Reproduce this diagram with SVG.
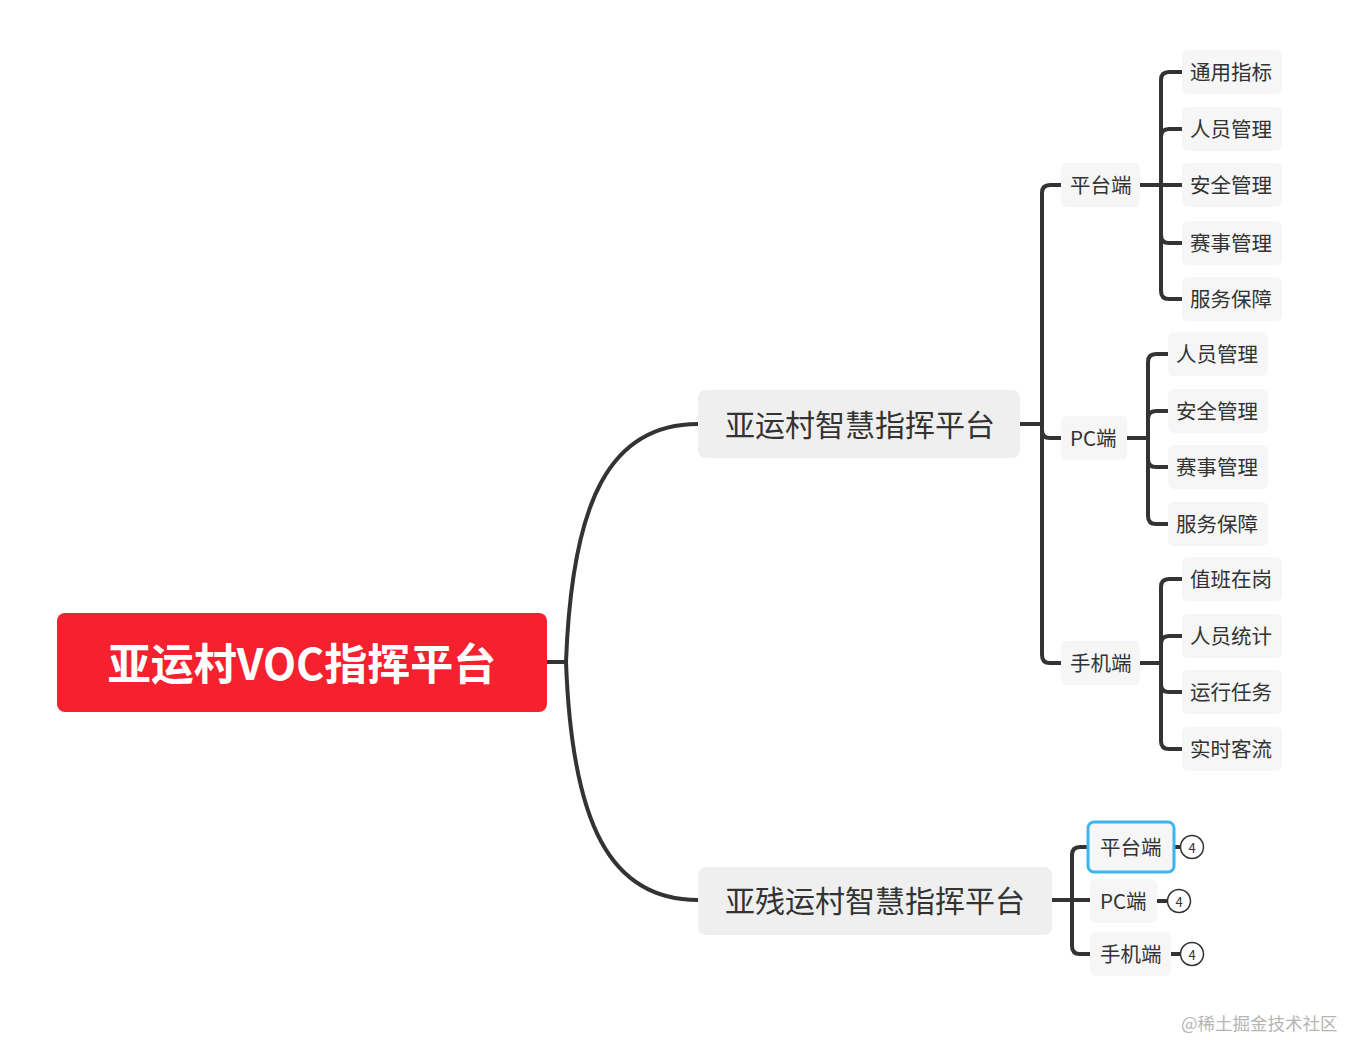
<svg xmlns="http://www.w3.org/2000/svg" width="1347" height="1040" viewBox="0 0 1347 1040">
<style>
text{font-family:"Noto Sans CJK SC","Noto Sans",sans-serif;dominant-baseline:central;fill:#333}
.ln{fill:none;stroke:#333;stroke-width:4;stroke-linecap:butt}
.l1{fill:#efefef}
.l2{fill:#f6f6f6}
.t1{font-size:30px}
.t2{font-size:20.5px}
.cnt{fill:#fff;stroke:#333;stroke-width:1.5}
.ct{font-size:13px;text-anchor:middle}
</style>
<rect width="1347" height="1040" fill="#fff"/>
<g id="connectors">
<path class="ln" d="M547,662 H566"/>
<path class="ln" d="M566,662 C572,500 610,424 698,424"/>
<path class="ln" d="M566,662 C572,824 610,900 698,900"/>
<path class="ln" d="M1020,424 H1042"/>
<path class="ln" d="M1042,424 V193 Q1042,185 1050,185 H1061"/>
<path class="ln" d="M1042,424 V430 Q1042,438 1050,438 H1061"/>
<path class="ln" d="M1042,424 V655 Q1042,663 1050,663 H1061"/>
<path class="ln" d="M1140,185 H1161"/>
<path class="ln" d="M1161,185 V80 Q1161,72 1169,72 H1182"/>
<path class="ln" d="M1161,185 V137 Q1161,129 1169,129 H1182"/>
<path class="ln" d="M1161,185 H1182"/>
<path class="ln" d="M1161,185 V235 Q1161,243 1169,243 H1182"/>
<path class="ln" d="M1161,185 V291 Q1161,299 1169,299 H1182"/>
<path class="ln" d="M1127,438 H1148"/>
<path class="ln" d="M1148,438 V362 Q1148,354 1156,354 H1168"/>
<path class="ln" d="M1148,438 V419 Q1148,411 1156,411 H1168"/>
<path class="ln" d="M1148,438 V459 Q1148,467 1156,467 H1168"/>
<path class="ln" d="M1148,438 V516 Q1148,524 1156,524 H1168"/>
<path class="ln" d="M1140,663 H1161"/>
<path class="ln" d="M1161,663 V587 Q1161,579 1169,579 H1182"/>
<path class="ln" d="M1161,663 V644 Q1161,636 1169,636 H1182"/>
<path class="ln" d="M1161,663 V684 Q1161,692 1169,692 H1182"/>
<path class="ln" d="M1161,663 V741 Q1161,749 1169,749 H1182"/>
<path class="ln" d="M1052,900 H1072"/>
<path class="ln" d="M1072,900 V855 Q1072,847 1080,847 H1088"/>
<path class="ln" d="M1072,900 H1090"/>
<path class="ln" d="M1072,900 V946 Q1072,954 1080,954 H1090"/>
<path class="ln" d="M1174,847 H1181"/>
<path class="ln" d="M1157,901 H1168"/>
<path class="ln" d="M1171,954 H1181"/>
</g>
<g id="root">
<rect x="57" y="613" width="490" height="99" rx="8" fill="#f5212f"/>
<text x="302" y="661" text-anchor="middle" font-size="43" font-weight="700" style="fill:#fff">亚运村VOC指挥平台</text>
</g>
<g id="n1">
<rect class="l1" x="698" y="390" width="322" height="68" rx="8"/>
<text class="t1" x="725" y="423">亚运村智慧指挥平台</text>
</g>
<g id="n2">
<rect class="l1" x="698" y="867" width="354" height="68" rx="8"/>
<text class="t1" x="725" y="899">亚残运村智慧指挥平台</text>
</g>
<g id="n1a"><rect class="l2" x="1061" y="163" width="79" height="44" rx="6"/><text class="t2" x="1070" y="184">平台端</text></g>
<g id="n1b"><rect class="l2" x="1061" y="416" width="66" height="44" rx="6"/><text class="t2" x="1070" y="437">PC端</text></g>
<g id="n1c"><rect class="l2" x="1061" y="641" width="79" height="44" rx="6"/><text class="t2" x="1070" y="662">手机端</text></g>

<g id="n1a1"><rect class="l2" x="1182" y="50" width="100" height="44" rx="6"/><text class="t2" x="1190" y="71">通用指标</text></g>
<g id="n1a2"><rect class="l2" x="1182" y="107" width="100" height="44" rx="6"/><text class="t2" x="1190" y="128">人员管理</text></g>
<g id="n1a3"><rect class="l2" x="1182" y="163" width="100" height="44" rx="6"/><text class="t2" x="1190" y="184">安全管理</text></g>
<g id="n1a4"><rect class="l2" x="1182" y="221" width="100" height="44" rx="6"/><text class="t2" x="1190" y="242">赛事管理</text></g>
<g id="n1a5"><rect class="l2" x="1182" y="277" width="100" height="44" rx="6"/><text class="t2" x="1190" y="298">服务保障</text></g>

<g id="n1b1"><rect class="l2" x="1168" y="332" width="100" height="44" rx="6"/><text class="t2" x="1176" y="353">人员管理</text></g>
<g id="n1b2"><rect class="l2" x="1168" y="389" width="100" height="44" rx="6"/><text class="t2" x="1176" y="410">安全管理</text></g>
<g id="n1b3"><rect class="l2" x="1168" y="445" width="100" height="44" rx="6"/><text class="t2" x="1176" y="466">赛事管理</text></g>
<g id="n1b4"><rect class="l2" x="1168" y="502" width="100" height="44" rx="6"/><text class="t2" x="1176" y="523">服务保障</text></g>

<g id="n1c1"><rect class="l2" x="1182" y="557" width="100" height="44" rx="6"/><text class="t2" x="1190" y="578">值班在岗</text></g>
<g id="n1c2"><rect class="l2" x="1182" y="614" width="100" height="44" rx="6"/><text class="t2" x="1190" y="635">人员统计</text></g>
<g id="n1c3"><rect class="l2" x="1182" y="670" width="100" height="44" rx="6"/><text class="t2" x="1190" y="691">运行任务</text></g>
<g id="n1c4"><rect class="l2" x="1182" y="727" width="100" height="44" rx="6"/><text class="t2" x="1190" y="748">实时客流</text></g>

<g id="n2a">
<rect x="1088" y="822" width="86" height="50" rx="6" fill="#f6f6f6" stroke="#3db5f0" stroke-width="3"/>
<text class="t2" x="1100" y="846">平台端</text>
<circle class="cnt" cx="1192" cy="847" r="11.5"/><text class="ct" x="1192" y="847">4</text>
</g>
<g id="n2b">
<rect class="l2" x="1090" y="879" width="67" height="44" rx="6"/>
<text class="t2" x="1100" y="900">PC端</text>
<circle class="cnt" cx="1179" cy="901" r="11.5"/><text class="ct" x="1179" y="901">4</text>
</g>
<g id="n2c">
<rect class="l2" x="1090" y="932" width="81" height="44" rx="6"/>
<text class="t2" x="1100" y="953">手机端</text>
<circle class="cnt" cx="1192" cy="954" r="11.5"/><text class="ct" x="1192" y="954">4</text>
</g>
<text x="1181" y="1022" font-size="17.5" style="fill:#b5b5b5">@稀土掘金技术社区</text>
</svg>
